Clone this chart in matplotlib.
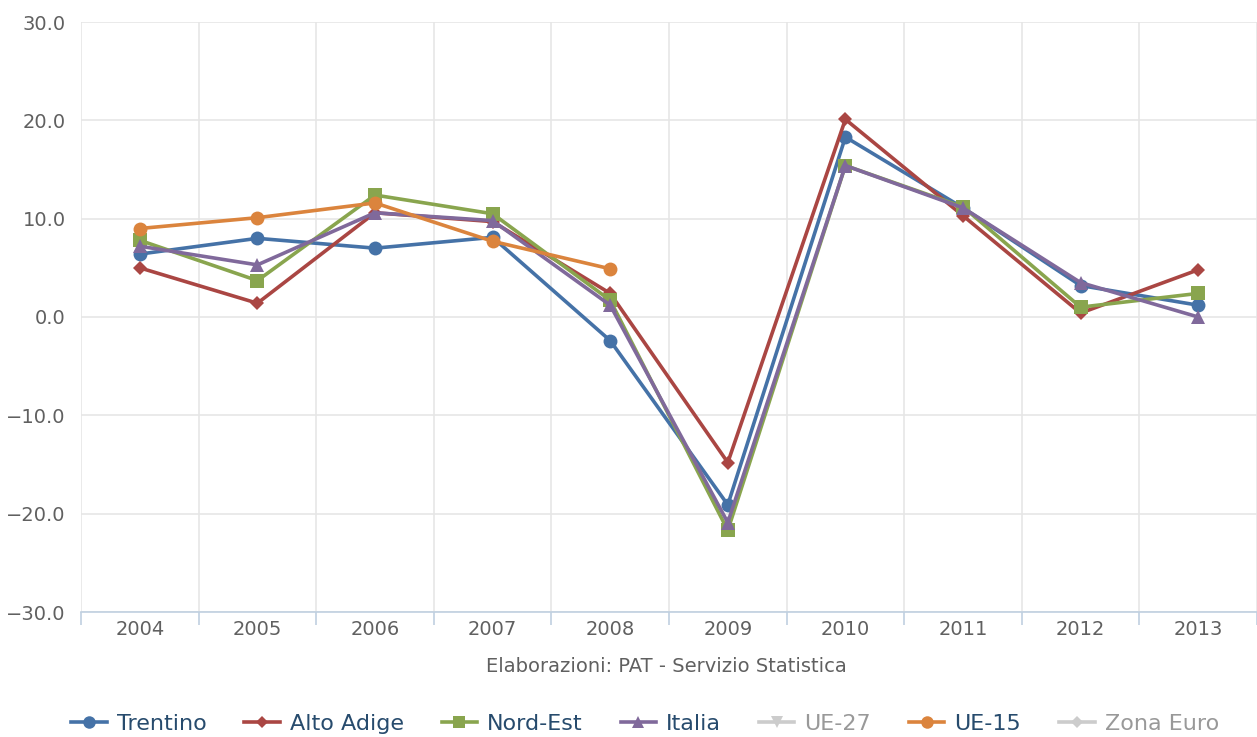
import matplotlib.pyplot as plt
from matplotlib.lines import Line2D
from matplotlib.ticker import FixedLocator, FuncFormatter

years = ['2004', '2005', '2006', '2007', '2008', '2009', '2010', '2011', '2012', '2013']

trentino = [6.4, 8.0, 7.0, 8.1, -2.4, -19.1, 18.3, 11.1, 3.2, 1.2]
alto_adige = [5.0, 1.4, 10.6, 9.7, 2.4, -14.8, 20.1, 10.3, 0.4, 4.8]
nord_est = [7.8, 3.7, 12.4, 10.5, 1.7, -21.7, 15.4, 11.2, 1.0, 2.4]
italia = [7.2, 5.3, 10.6, 9.8, 1.2, -20.9, 15.4, 11.1, 3.5, 0.0]
ue15 = [9.0, 10.1, 11.6, 7.7, 4.9]

series = [
    ('Trentino', trentino, '#4572A7', 'o'),
    ('Alto Adige', alto_adige, '#AA4643', 'D'),
    ('Nord-Est', nord_est, '#89A54E', 's'),
    ('Italia', italia, '#80699B', '^'),
    ('UE-15', ue15, '#DB843D', 'o'),
]
msize = {'o': 10, 'D': 7, 's': 9.5, '^': 10}

fig = plt.figure(figsize=(12.57, 7.37), dpi=100)
ax = fig.add_axes([81 / 1257, 1 - 612 / 737, 1 - 81 / 1257, (612 - 22) / 737])

x = list(range(len(years)))
for name, vals, col, mk in series:
    ax.plot(x[:len(vals)], vals, color=col, marker=mk, markersize=msize[mk],
            linewidth=2.6, markeredgewidth=0, label=name, zorder=3)

ax.set_xlim(-0.5, len(years) - 0.5)
ax.set_ylim(-30, 30)
ax.set_yticks(range(-30, 31, 10))
ax.yaxis.set_major_formatter(FuncFormatter(lambda v, p: ('%.1f' % v).replace('-', '\u2212')))
ax.set_xticks(x)
ax.set_xticklabels(years)
ax.xaxis.set_minor_locator(FixedLocator([i - 0.5 for i in range(len(years) + 1)]))

ax.grid(axis='y', color='#E6E6E6', linewidth=1.2)
ax.grid(axis='x', which='minor', color='#E6E6E6', linewidth=1.2)
ax.set_axisbelow(True)
for s in ['top', 'right', 'left']:
    ax.spines[s].set_visible(False)
ax.spines['bottom'].set_color('#C0D0E0')
ax.spines['bottom'].set_linewidth(1.2)

ax.tick_params(axis='x', which='major', length=0, pad=6, labelsize=14, labelcolor='#606060')
ax.tick_params(axis='x', which='minor', length=9, color='#C0D0E0', width=1.2)
ax.tick_params(axis='y', length=0, pad=11, labelsize=14, labelcolor='#606060')

fig.text(666 / 1257, 1 - 667 / 737, 'Elaborazioni: PAT - Servizio Statistica',
         ha='center', va='center', fontsize=14, color='#606060')

handles = [
    Line2D([], [], color='#4572A7', marker='o', markersize=9, lw=2.6, mew=0),
    Line2D([], [], color='#AA4643', marker='D', markersize=6.5, lw=2.6, mew=0),
    Line2D([], [], color='#89A54E', marker='s', markersize=9, lw=2.6, mew=0),
    Line2D([], [], color='#80699B', marker='^', markersize=9, lw=2.6, mew=0),
    Line2D([], [], color='#CCCCCC', marker='v', markersize=9, lw=2.6, mew=0),
    Line2D([], [], color='#DB843D', marker='o', markersize=9, lw=2.6, mew=0),
    Line2D([], [], color='#CCCCCC', marker='D', markersize=6.5, lw=2.6, mew=0),
]
labels = ['Trentino', 'Alto Adige', 'Nord-Est', 'Italia', 'UE-27', 'UE-15', 'Zona Euro']
leg = fig.legend(handles, labels, loc='center', bbox_to_anchor=(645 / 1257, 1 - 724 / 737),
                 ncol=7, frameon=False, fontsize=16, handlelength=1.6, handletextpad=0.45,
                 columnspacing=1.7)
for t, lab in zip(leg.get_texts(), labels):
    t.set_color('#999999' if lab in ('UE-27', 'Zona Euro') else '#274B6D')

fig.savefig('out.png', dpi=100)
